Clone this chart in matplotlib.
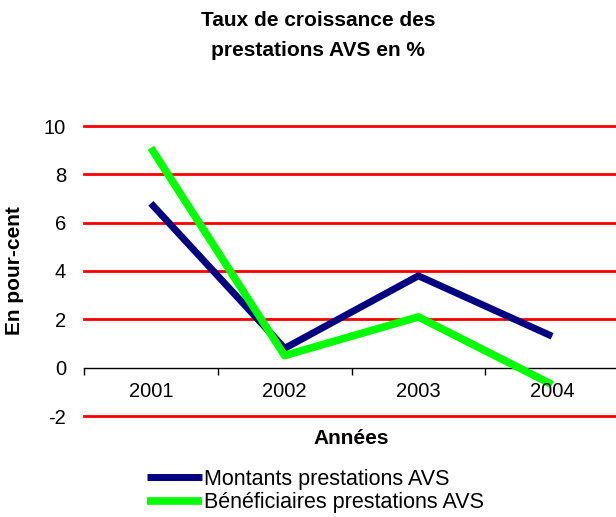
import matplotlib.pyplot as plt

plt.rcParams['font.family'] = ['Liberation Sans', 'DejaVu Sans']
plt.rcParams['axes.unicode_minus'] = False

annees = ['2001', '2002', '2003', '2004']
montants = [6.8, 0.8, 3.8, 1.3]
beneficiaires = [9.1, 0.5, 2.1, -0.7]
yticks = [-2, 0, 2, 4, 6, 8, 10]

fig = plt.figure(figsize=(6.16, 5.17), dpi=100)
ax = fig.add_axes([84/616, 101/517, 535/616, 290/517])

x = list(range(len(annees)))
for t in yticks:
    if t != 0:
        ax.axhline(t, color='red', lw=2, zorder=1, clip_on=False)
l1, = ax.plot(x, montants, color='#000080', lw=5, solid_capstyle='butt', zorder=3)
l2, = ax.plot(x, beneficiaires, color='#00ff00', lw=5.5, solid_capstyle='butt', zorder=3)

ax.set_xlim(-0.5, len(annees) - 0.5)
ax.set_ylim(-2, 10)
for s in ['top', 'right', 'left']:
    ax.spines[s].set_visible(False)
ax.spines['bottom'].set_position(('data', 0))
ax.spines['bottom'].set_linewidth(1)
ax.spines['bottom'].set_zorder(2)
ax.set_xticks([i - 0.5 for i in range(len(annees) + 1)])
ax.set_xticklabels([])
ax.tick_params(axis='x', direction='out', length=5, width=1)
ax.set_yticks(yticks)
ax.tick_params(axis='y', length=0, pad=13, labelsize=14.5)
for i, a in enumerate(annees):
    ax.text(i, -1, a, ha='center', va='center', fontsize=14.5)

fig.text(318/616, 1 - 21/517, 'Taux de croissance des', ha='center', va='center',
         fontsize=15, fontweight='bold')
fig.text(318/616, 1 - 51/517, 'prestations AVS en %', ha='center', va='center',
         fontsize=15, fontweight='bold')
fig.text(15/616, 1 - 271/517, 'En pour-cent', rotation=90, ha='center', va='center',
         fontsize=15, fontweight='bold')
fig.text(351/616, 1 - 438/517, 'Années', ha='center', va='center', fontsize=15, fontweight='bold')

fig.legend([l1, l2], ['Montants prestations AVS', 'Bénéficiaires prestations AVS'],
           loc='upper left', bbox_to_anchor=(147/616, 1 - 469/517), frameon=False,
           fontsize=15.5, handlelength=2.55, handletextpad=0.1, labelspacing=0.1,
           borderaxespad=0, borderpad=0)

fig.savefig('out.png', dpi=100)
